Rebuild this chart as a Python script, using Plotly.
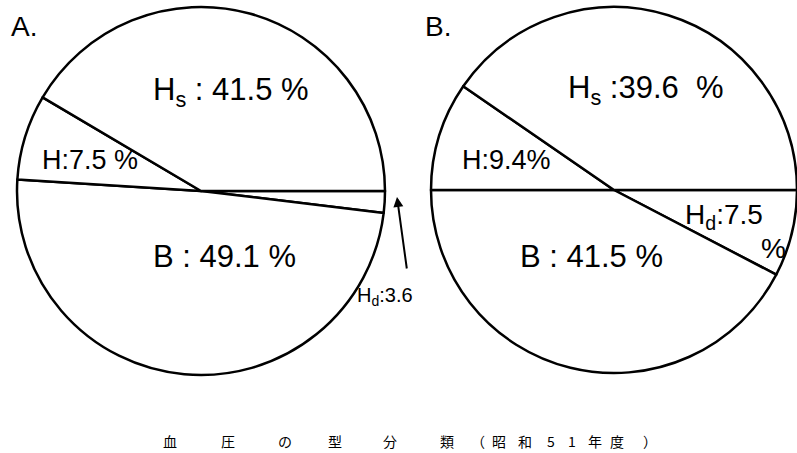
import plotly.graph_objects as go

W, H = 797, 453

categories = ["Hs", "H", "B", "Hd"]
values_A = [41.5, 7.5, 49.1, 1.9]
values_B = [39.6, 9.4, 41.5, 7.5]

labels_A = ["H<sub>s</sub> : 41.5 %", "H:7.5 %", "B : 49.1 %", "H<sub>d</sub>:3.6"]
labels_B = ["H<sub>s</sub> :39.6  %", "H:9.4%", "B : 41.5 %", "H<sub>d</sub>:7.5"]

caption_chars = ["血", "圧", "の", "型", "分", "類", "（", "昭", "和", "5", "1", "年", "度", "）"]
caption_px = [170, 228, 285, 335, 390, 447, 478, 499, 525, 551, 572, 595, 617, 650]

def px(x):
    return x / W

def py(y):
    return 1 - y / H

line = dict(color="black", width=2.5)
white = ["white"] * 4

# drawn clockwise starting at 3 o'clock: Hd, B, H, Hs (so Hs runs counterclockwise from east)
order = [3, 2, 1, 0]

fig = go.Figure()
cxA, cyA, rA = 201, 191, 184
fig.add_trace(go.Pie(
    labels=[categories[i] for i in order], values=[values_A[i] for i in order],
    sort=False, direction="clockwise", rotation=90, textinfo="none",
    hoverinfo="label+value",
    marker=dict(colors=white, line=line), showlegend=False,
    domain=dict(x=[px(cxA - rA), px(cxA + rA)], y=[py(cyA + rA), py(cyA - rA)]),
))
cxB, cyB, rB = 614, 190, 183
fig.add_trace(go.Pie(
    labels=[categories[i] for i in order], values=[values_B[i] for i in order],
    sort=False, direction="clockwise", rotation=90, textinfo="none",
    hoverinfo="label+value",
    marker=dict(colors=white, line=line), showlegend=False,
    domain=dict(x=[px(cxB - rB), min(1.0, px(cxB + rB))], y=[py(cyB + rB), py(cyB - rB)]),
))

font_main = "Liberation Sans, Arial, sans-serif"
ann = []

def label(text, x, y, size=30):
    ann.append(dict(text=text, x=px(x), y=py(y), xref="paper", yref="paper",
                    xanchor="center", yanchor="middle", showarrow=False,
                    font=dict(family=font_main, size=size, color="black")))

label("A.", 24, 27, 28)
label("B.", 438, 27, 28)

posA = [(231, 92), (90, 160), (224, 256), (385, 296)]
sizesA = [31, 27, 31, 20]
for t, (x, y), s in zip(labels_A, posA, sizesA):
    label(t, x, y, s)

posB = [(646, 90), (506, 160), (591, 256), (724, 216)]
sizesB = [31, 27, 31, 28]
for t, (x, y), s in zip(labels_B, posB, sizesB):
    label(t, x, y, s)
label("%", 773, 248, 28)

# arrow for Hd in A
ann.append(dict(text="", x=px(397), y=py(197), ax=10, ay=73,
                xref="paper", yref="paper", axref="pixel", ayref="pixel",
                showarrow=True, arrowhead=2, arrowsize=1, arrowwidth=2, arrowcolor="black"))

for ch, x in zip(caption_chars, caption_px):
    ann.append(dict(text=ch, x=px(x), y=py(441), xref="paper", yref="paper",
                    xanchor="center", yanchor="middle", showarrow=False,
                    font=dict(family="Noto Sans CJK JP", size=14, color="black")))

fig.update_layout(width=W, height=H, margin=dict(l=0, r=0, t=0, b=0),
                  paper_bgcolor="white", plot_bgcolor="white", annotations=ann)

fig.write_html("out.html", config={"displayModeBar": False},
               post_script="document.body.style.margin='0';document.body.style.padding='0';")
